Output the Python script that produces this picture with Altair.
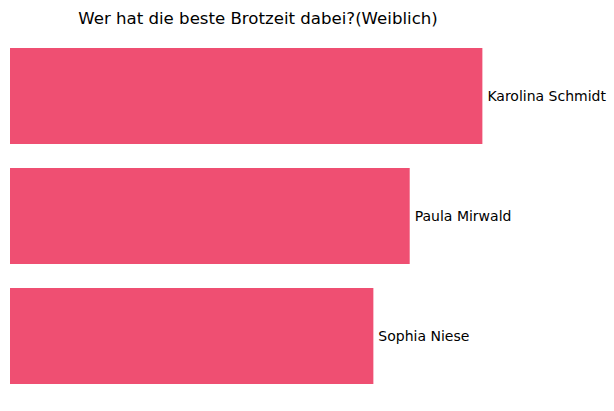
import altair as alt
import pandas as pd

names = ["Karolina Schmidt", "Paula Mirwald", "Sophia Niese"]
votes = [13, 11, 10]

df = pd.DataFrame({"name": names, "votes": votes})

base = alt.Chart(df).encode(
    y=alt.Y("name:N", sort=names, axis=None,
            scale=alt.Scale(paddingInner=0.2, paddingOuter=0.1417)),
)

bars = base.mark_bar(color="#EF4F72").encode(
    x=alt.X("votes:Q", axis=None, scale=alt.Scale(domain=[0, 13.65], nice=False, zero=True)),
)

labels = base.mark_text(align="left", baseline="middle", dx=5, dy=1, fontSize=14,
                        font="DejaVu Sans", color="black", clip=False).encode(
    x="votes:Q",
    text="name:N",
)

chart = (bars + labels).properties(
    width=496,
    height=370,
    title=alt.TitleParams("Wer hat die beste Brotzeit dabei?(Weiblich)", fontSize=16.6,
                          font="DejaVu Sans", fontWeight="normal", color="black",
                          anchor="middle", offset=3),
    autosize=alt.AutoSizeParams(type="none"),
    padding={"left": 10, "top": 31, "right": 108, "bottom": 10},
).configure_view(stroke=None)

chart.save("out.html", embed_options={"renderer": "svg", "actions": False})
